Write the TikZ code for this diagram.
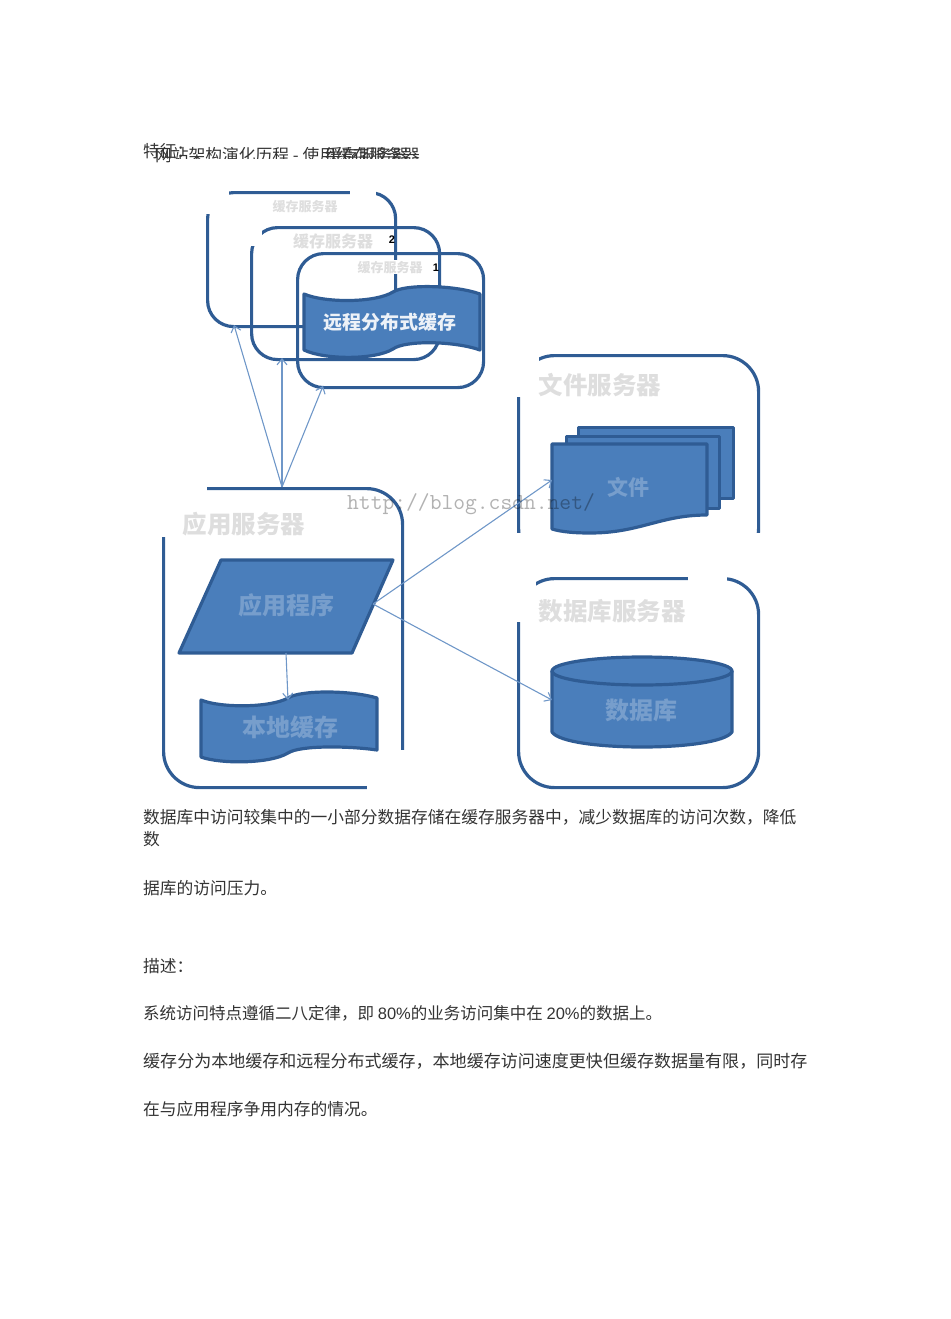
\documentclass[tikz,border=0pt]{standalone}
\usepackage{fontspec}
\setmainfont{Noto Sans CJK SC}
\newfontfamily\latinfont{Liberation Sans}
\usepackage{xcolor}
\usetikzlibrary{positioning,arrows.meta}
\definecolor{shapefill}{HTML}{4A7EBB}
\definecolor{shapeline}{HTML}{2F5C94}
\definecolor{linkblue}{HTML}{6F97C8}
\newcommand{\pxfont}[1]{\fontsize{#1}{#1}\selectfont}
\tikzset{
  srv/.style={draw=shapeline, line width=3.2pt, rounded corners=26pt, inner sep=0pt, anchor=north west},
  solid/.style={fill=shapefill, draw=shapeline, line width=3.2pt, line join=round},
  patch/.style={fill=white, draw=none},
  link/.style={draw=linkblue, line width=1.1pt, -{Straight Barb[length=6pt,width=10pt]}},
  para/.style={font=\pxfont{16.75}, anchor=west, inner sep=0pt, text=black!80},
  faint/.style={font=\pxfont{#1}\bfseries, text=black!13, inner sep=0pt},
  faint/.default=24.5,
  ghost/.style={font=\pxfont{#1}\bfseries, text=white!25!shapefill, inner sep=0pt},
  ghost/.default=24,
  num/.style={font=\latinfont\pxfont{11}\bfseries, inner sep=0pt}
}
\begin{document}
\begin{tikzpicture}[x=1pt, y=-1pt]
  \useasboundingbox (0,0) rectangle (950,1319);
  % heading, printed over one another and cut by the figure below it
  \node[para] (head) at (155,155) {网站架构演化历程 - 使用缓存服务器};
  \node[para] (headb) at (325,155) {缓存服务器};
  \fill[patch] (170,158.5) rectangle (440,170);
  \node[para] (feat) at (143,151) {特征：};
  % cache servers
  \node[srv, minimum width=188pt, minimum height=134pt] (cacheC) at (206,191) {};
  \node[srv, minimum width=188pt, minimum height=132pt] (cacheB) at (250,226) {};
  \node[srv, minimum width=186pt, minimum height=134pt] (cacheA) at (296,252) {};
  \fill[patch] (200,185) rectangle (229,214);
  \fill[patch] (350,185) rectangle (376,198);
  \fill[patch] (244,220) rectangle (262,246);
  \fill[patch] (388,260) rectangle (400,274);
  \node[faint=13] (lblC) at (305,207) {缓存服务器};
  \node[faint=16] (lblB) at (333,241) {缓存服务器};
  \node[faint=13] (lblA) at (390,268) {缓存服务器};
  \node[num] (two) at (392,240) {2};
  \node[num] (one) at (436,268) {1};
  \draw[solid] (304,294) .. controls (325,303) and (375,303) .. (393,292)
    .. controls (405,284) and (455,285) .. (480,294) -- (480,350)
    .. controls (455,341) and (405,340) .. (393,349)
    .. controls (375,360) and (325,360) .. (304,350) -- cycle;
  \node[font=\pxfont{19}\bfseries, text=white!90!shapefill, inner sep=0pt] (remote) at (390,322) {远程分布式缓存};
  % application server
  \node[srv, rounded corners=36pt, minimum width=239pt, minimum height=299pt] (app) at (162,487) {};
  \fill[patch] (155,480) rectangle (207,537);
  \fill[patch] (367,778) rectangle (408,793);
  \fill[patch] (385,750) rectangle (408,793);
  \node[faint] (lblApp) at (244,524) {应用服务器};
  \draw[solid] (221,560) -- (393,560) -- (352,653) -- (179,653) -- cycle;
  \node[ghost] (prog) at (286,605) {应用程序};
  \draw[solid] (201,700) .. controls (220,708) and (270,708) .. (288,698)
    .. controls (300,690) and (350,690) .. (377,698) -- (377,750)
    .. controls (350,746) and (300,745) .. (288,753)
    .. controls (270,764) and (220,764) .. (201,757) -- cycle;
  \node[ghost] (local) at (290,727) {本地缓存};
  % file server
  \node[srv, rounded corners=36pt, minimum width=240pt, minimum height=209pt] (file) at (517,354) {};
  \fill[patch] (510,347) rectangle (539,397);
  \fill[patch] (510,533) rectangle (765,571);
  \node[faint] (lblFile) at (600,385) {文件服务器};
  \node[solid, minimum width=155pt, minimum height=71pt, inner sep=0pt, anchor=north west] (doc3) at (577,426) {};
  \node[solid, minimum width=153pt, minimum height=72pt, inner sep=0pt, anchor=north west] (doc2) at (565,435) {};
  \draw[solid] (552,444) -- (707,444) -- (707,515)
    .. controls (660,515) and (640,533) .. (590,533)
    .. controls (575,533) and (562,532) .. (552,529) -- cycle;
  \node[ghost=21] (docs) at (628,487) {文件};
  % database server
  \node[srv, rounded corners=36pt, minimum width=240pt, minimum height=209pt] (db) at (517,577) {};
  \fill[patch] (510,570) rectangle (536,622);
  \fill[patch] (688,570) rectangle (727,584);
  \node[faint] (lblDb) at (612,611) {数据库服务器};
  \draw[solid] (552,671) -- (552,732) .. controls (565,752) and (719,752) .. (732,732) -- (732,671);
  \draw[solid] (642,671) ellipse [x radius=90, y radius=14];
  \node[ghost] (data) at (641,710) {数据库};
  % links
  \coordinate (appTop) at (282,487);
  \coordinate (progEast) at (373,604);
  \coordinate (progSouth) at (286,653);
  \coordinate (cacheCIn) at (234,325);
  \coordinate (cacheBIn) at (282,358);
  \coordinate (cacheAIn) at (323,386);
  \coordinate (docIn) at (552,480);
  \coordinate (dbIn) at (552,700);
  \coordinate (localIn) at (288,700);
  \draw[link] (appTop) -- (cacheCIn);
  \draw[link] (appTop) -- (cacheBIn);
  \draw[link] (appTop) -- (cacheAIn);
  \draw[link] (progEast) -- (docIn);
  \draw[link] (progEast) -- (dbIn);
  \draw[link] (progSouth) -- (localIn);
  \node[font=\ttfamily\pxfont{22.9}, text=black, opacity=0.3, inner sep=0pt, anchor=west] (mark) at (347,504) {http://blog.csdn.net/};
  % body text
  \node[para] (t1) at (143,817) {数据库中访问较集中的一小部分数据存储在缓存服务器中，减少数据库的访问次数，降低};
  \node[para] (t2) at (143,839) {数};
  \node[para] (t3) at (143,888) {据库的访问压力。};
  \node[para] (t4) at (143,966) {描述：};
  \node[para, font=\pxfont{16.5}] (t5) at (143,1013) {系统访问特点遵循二八定律，即 {\latinfont 80\%}的业务访问集中在 {\latinfont 20\%}的数据上。};
  \node[para, font=\pxfont{17.03}] (t6) at (143,1061) {缓存分为本地缓存和远程分布式缓存，本地缓存访问速度更快但缓存数据量有限，同时存};
  \node[para] (t7) at (143,1109) {在与应用程序争用内存的情况。};
\end{tikzpicture}
\end{document}
